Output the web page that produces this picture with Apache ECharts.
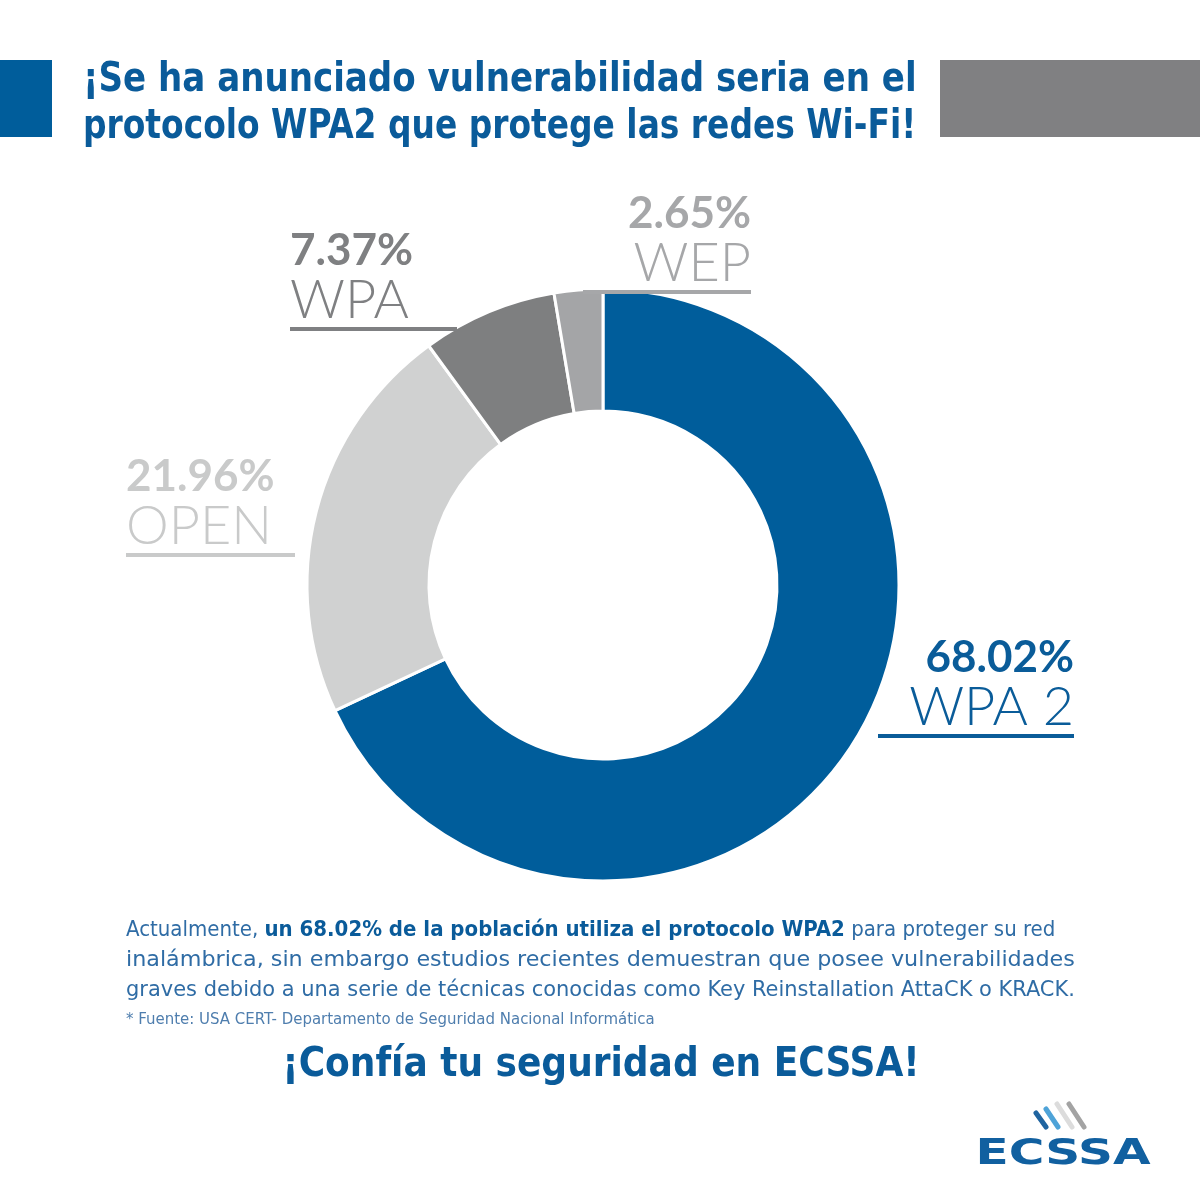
<!DOCTYPE html>
<html lang="es">
<head>
	<meta charset="UTF-8">
	<title>WPA2 - ECSSA</title>
	<style>
		html, body { margin: 0; padding: 0; background: #fff; }
		#main { width: 1200px; height: 1200px; }
	</style>
</head>
<body>
	<div id="main"></div>

	<script src="https://cdn.jsdelivr.net/npm/echarts@6/dist/echarts.min.js"></script>
	<script>
		// datos
		var categories = ['WPA 2', 'OPEN', 'WPA', 'WEP'];
		var values = [68.02, 21.96, 7.37, 2.65];
		var sliceColors = ['#005d9b', '#d0d1d1', '#7e7f80', '#a4a5a7'];
		var labelColors = ['#0a5c99', '#c9caca', '#7f8082', '#a6a7a9'];

		var titleLines = ['¡Se ha anunciado vulnerabilidad seria en el', 'protocolo WPA2 que protege las redes Wi-Fi!'];
		var bodyLines = [
			'inalámbrica, sin embargo estudios recientes demuestran que posee vulnerabilidades',
			'graves debido a una serie de técnicas conocidas como Key Reinstallation AttaCK o KRACK.'
		];
		var fuente = '* Fuente: USA CERT- Departamento de Seguridad Nacional Informática';
		var lema = '¡Confía tu seguridad en ECSSA!';

		// posicion de etiquetas (x, y arriba, alineacion, ancho del subrayado)
		var labelPos = [
			[1074, 634, 'right', 196],
			[126, 453, 'left', 169],
			[290, 227, 'left', 167],
			[751, 190, 'right', 168]
		];

		var blue = '#0a5b9a';
		var textBlue = '#2f6ca5';
		var boldFont = "'DejaVu Sans Condensed', 'Liberation Sans Narrow', 'Noto Sans', sans-serif";

		var pieData = categories.map(function (name, i) {
			var al = labelPos[i][2];
			return {
				name: name,
				value: values[i],
				itemStyle: { color: sliceColors[i] },
				label: {
					rich: {
						p: { fontFamily: 'Lato', fontWeight: 'bold', fontSize: 44, lineHeight: 48, color: labelColors[i], align: al },
						n: { fontFamily: 'Lato', fontWeight: 300, fontSize: 54, lineHeight: 52, color: labelColors[i], align: al },
						u: { width: labelPos[i][3], height: 4, lineHeight: 4, backgroundColor: labelColors[i], align: al }
					}
				}
			};
		});

		var myChart = echarts.init(document.getElementById('main'));
		var option = {
			backgroundColor: '#fff',
			animation: false,
			graphic: [
				{ type: 'rect', shape: { x: 0, y: 60, width: 52, height: 77 }, style: { fill: '#005d9b' } },
				{ type: 'rect', shape: { x: 940, y: 60, width: 260, height: 77 }, style: { fill: '#808082' } },
				{ type: 'text', x: 83, y: 81, scaleX: 0.947, style: { text: titleLines[0], font: 'bold 40px ' + boldFont, fill: blue, textVerticalAlign: 'middle' } },
				{ type: 'text', x: 83, y: 128, scaleX: 0.914, style: { text: titleLines[1], font: 'bold 40px ' + boldFont, fill: blue, textVerticalAlign: 'middle' } },
				{
					type: 'text', x: 126, y: 930,
					style: {
						text: '{r|Actualmente, }{b|un 68.02% de la población utiliza el protocolo WPA2}{r| para proteger su red}',
						textVerticalAlign: 'middle',
						rich: {
							r: { fontFamily: boldFont, fontSize: 22, fill: textBlue },
							b: { fontFamily: boldFont, fontWeight: 'bold', fontSize: 22, fill: blue }
						}
					}
				},
				{ type: 'text', x: 126, y: 960, scaleX: 1.124, style: { text: bodyLines[0], font: '22px ' + boldFont, fill: textBlue, textVerticalAlign: 'middle' } },
				{ type: 'text', x: 126, y: 990, scaleX: 1.059, style: { text: bodyLines[1], font: '22px ' + boldFont, fill: textBlue, textVerticalAlign: 'middle' } },
				{ type: 'text', x: 126, y: 1020, scaleX: 1.04, style: { text: fuente, font: '16px ' + boldFont, fill: '#4f7eae', textVerticalAlign: 'middle' } },
				{ type: 'text', x: 601, y: 1066, style: { text: lema, font: 'bold 40px ' + boldFont, fill: blue, textAlign: 'center', textVerticalAlign: 'middle' } },
				// logo
				{ type: 'line', shape: { x1: 1036, y1: 1113, x2: 1046, y2: 1127 }, style: { stroke: '#1f64a0', lineWidth: 5, lineCap: 'round' } },
				{ type: 'line', shape: { x1: 1046, y1: 1109, x2: 1058, y2: 1127 }, style: { stroke: '#4ea3d8', lineWidth: 5, lineCap: 'round' } },
				{ type: 'line', shape: { x1: 1057, y1: 1104, x2: 1072, y2: 1127 }, style: { stroke: '#dcdcdc', lineWidth: 5, lineCap: 'round' } },
				{ type: 'line', shape: { x1: 1069, y1: 1104, x2: 1084, y2: 1127 }, style: { stroke: '#a3a3a3', lineWidth: 5, lineCap: 'round' } },
				{ type: 'text', x: 1063, y: 1155, scaleX: 1.5, style: { text: 'ECSSA', font: 'bold 36px ' + boldFont, fill: '#1160a0', textAlign: 'center', textVerticalAlign: 'middle' } }
			],
			series: [{
				type: 'pie',
				center: [603, 585],
				radius: [174, 296],
				startAngle: 90,
				clockwise: true,
				itemStyle: { borderColor: '#fff', borderWidth: 3 },
				emphasis: { disabled: true },
				label: {
					show: true,
					position: 'outside',
					formatter: function (p) {
						return '{p|' + p.value.toFixed(2) + '%}\n{n|' + p.name + '}\n{u|}';
					}
				},
				labelLine: { show: false },
				labelLayout: function (params) {
					var a = labelPos[params.dataIndex];
					return { x: a[0], y: a[1], align: a[2], verticalAlign: 'top' };
				},
				data: pieData
			}]
		};
		myChart.setOption(option);
	</script>
</body>
</html>
